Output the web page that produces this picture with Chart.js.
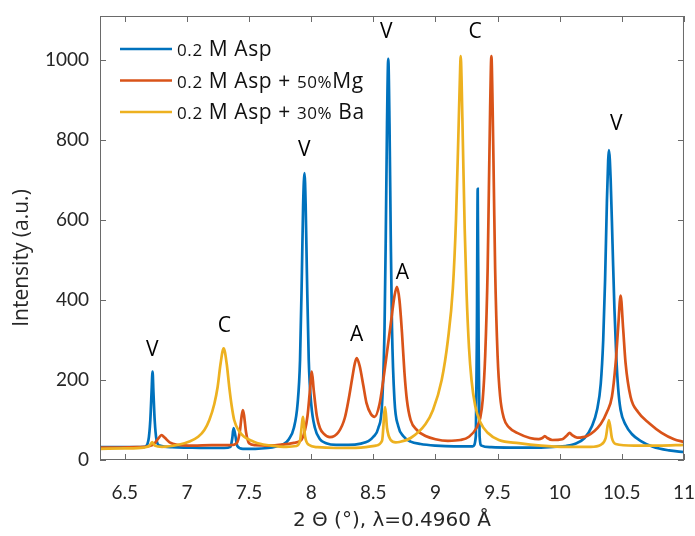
<!DOCTYPE html>
<html>
<head>
<meta charset="utf-8">
<script src="https://cdn.jsdelivr.net/npm/chart.js@4.4.1/dist/chart.umd.min.js"></script>
<style>
  html, body { margin: 0; padding: 0; background: #fff; }
  #wrap { width: 695px; height: 536px; }
</style>
</head>
<body>
<div id="wrap"><canvas id="xrdChart"></canvas></div>
<script>
const seriesNames = ['0.2 M Asp', '0.2 M Asp + 50%Mg', '0.2 M Asp + 30% Ba'];

// [2theta, intensity]
const aspPoints = [
  [6.30, 32], [6.45, 32], [6.58, 32], [6.66, 33], [6.69, 50], [6.705, 100], [6.715, 170], [6.723, 221],
  [6.73, 170], [6.74, 100], [6.755, 50], [6.78, 36], [6.88, 32], [7.00, 31], [7.15, 30], [7.30, 30],
  [7.35, 33], [7.365, 55], [7.375, 80], [7.39, 60], [7.405, 35], [7.45, 28], [7.55, 28], [7.65, 30],
  [7.72, 34], [7.78, 40], [7.82, 52], [7.86, 80], [7.89, 140], [7.91, 250], [7.925, 470], [7.935, 640],
  [7.946, 717], [7.955, 640], [7.965, 470], [7.98, 250], [8.00, 140], [8.03, 80], [8.07, 52], [8.12, 42],
  [8.20, 38], [8.30, 38], [8.40, 41], [8.46, 47], [8.50, 58], [8.54, 80], [8.57, 140], [8.59, 330],
  [8.60, 560], [8.61, 840], [8.62, 1003], [8.63, 840], [8.64, 560], [8.65, 330], [8.67, 150], [8.70, 85],
  [8.74, 60], [8.80, 46], [8.88, 40], [9.00, 36], [9.15, 34], [9.30, 34], [9.325, 60], [9.333, 300],
  [9.34, 678], [9.347, 300], [9.355, 60], [9.37, 36], [9.45, 32], [9.60, 31], [9.80, 31], [9.95, 33],
  [10.05, 35], [10.12, 40], [10.20, 55], [10.26, 85], [10.30, 125], [10.33, 190], [10.35, 300], [10.365, 450],
  [10.38, 650], [10.39, 750], [10.396, 775], [10.41, 700], [10.425, 540], [10.44, 380], [10.455, 260], [10.47, 180],
  [10.49, 125], [10.53, 88], [10.58, 65], [10.65, 48], [10.75, 33], [10.88, 24], [11.00, 20]
];

const mgPoints = [
  [6.30, 31], [6.45, 31], [6.60, 32], [6.70, 35], [6.74, 42], [6.77, 54], [6.795, 62], [6.82, 56],
  [6.86, 44], [6.92, 38], [7.05, 36], [7.20, 37], [7.35, 37], [7.40, 42], [7.425, 70], [7.44, 110],
  [7.45, 125], [7.46, 110], [7.475, 70], [7.50, 42], [7.55, 37], [7.65, 36], [7.78, 39], [7.86, 43],
  [7.92, 50], [7.95, 75], [7.97, 110], [7.99, 175], [8.005, 221], [8.02, 175], [8.045, 110], [8.07, 80],
  [8.10, 66], [8.15, 57], [8.22, 70], [8.27, 105], [8.30, 150], [8.33, 205], [8.35, 240], [8.366, 255],
  [8.39, 235], [8.42, 185], [8.445, 142], [8.48, 115], [8.51, 108], [8.55, 140], [8.58, 200], [8.61, 270],
  [8.64, 340], [8.67, 410], [8.69, 433], [8.71, 400], [8.73, 320], [8.75, 220], [8.77, 150], [8.80, 100],
  [8.85, 75], [8.92, 60], [9.00, 52], [9.10, 48], [9.20, 50], [9.27, 58], [9.33, 80], [9.36, 105],
  [9.38, 150], [9.40, 260], [9.42, 480], [9.43, 680], [9.44, 880], [9.45, 1010], [9.46, 880], [9.47, 680],
  [9.48, 480], [9.50, 260], [9.52, 160], [9.55, 105], [9.59, 82], [9.67, 66], [9.76, 55], [9.83, 52],
  [9.86, 55], [9.88, 60], [9.90, 55], [9.94, 50], [10.02, 52], [10.06, 62], [10.08, 68], [10.10, 62],
  [10.14, 56], [10.22, 60], [10.33, 90], [10.38, 120], [10.42, 158], [10.45, 242], [10.47, 330], [10.49, 411],
  [10.51, 330], [10.53, 242], [10.57, 158], [10.63, 120], [10.72, 92], [10.82, 68], [10.92, 52], [11.00, 45]
];

const baPoints = [
  [6.30, 28], [6.50, 29], [6.65, 31], [6.70, 36], [6.72, 45], [6.74, 36], [6.80, 33], [6.93, 38],
  [7.02, 46], [7.09, 58], [7.14, 75], [7.18, 100], [7.22, 140], [7.247, 183], [7.27, 240], [7.295, 279],
  [7.32, 240], [7.34, 183], [7.36, 135], [7.38, 100], [7.42, 72], [7.46, 58], [7.52, 48], [7.57, 42],
  [7.68, 36], [7.80, 33], [7.88, 35], [7.91, 48], [7.935, 108], [7.95, 60], [7.98, 38], [8.05, 32],
  [8.20, 30], [8.40, 31], [8.52, 36], [8.57, 48], [8.595, 132], [8.61, 80], [8.64, 50], [8.68, 44],
  [8.71, 45], [8.80, 55], [8.92, 90], [8.98, 125], [9.05, 200], [9.10, 300], [9.14, 430], [9.165, 600],
  [9.185, 820], [9.197, 960], [9.203, 1010], [9.21, 950], [9.22, 800], [9.235, 580], [9.25, 420], [9.27, 280],
  [9.29, 200], [9.32, 135], [9.36, 95], [9.42, 68], [9.51, 50], [9.67, 42], [9.85, 36], [10.05, 33],
  [10.25, 33], [10.33, 38], [10.37, 55], [10.396, 100], [10.42, 55], [10.45, 40], [10.60, 36], [10.80, 36],
  [11.00, 38]
];

const xTickValues = [6.5, 7, 7.5, 8, 8.5, 9, 9.5, 10, 10.5, 11];
const yTickValues = [0, 200, 400, 600, 800, 1000];

// phase markers (V, C, A) at [2theta, intensity]
const peakLetters = ['V', 'C', 'V', 'A', 'V', 'A', 'C', 'V'];
const peakAt = [[6.72, 275], [7.30, 335], [7.944, 775], [8.366, 312], [8.603, 1070], [8.733, 467], [9.32, 1070], [10.455, 840]];

const lineColors = ['#0072BD', '#D95319', '#EDB120'];

const toXY = pts => pts.map(p => ({ x: p[0], y: p[1] }));

// box, inward ticks, legend, letters and y title
const decorPlugin = {
  id: 'decor',
  afterDraw(chart) {
    const { ctx, chartArea: a, scales: { x, y } } = chart;
    ctx.save();
    ctx.strokeStyle = '#6a6a6a';
    ctx.lineWidth = 1;
    ctx.strokeRect(a.left + 0.5, a.top + 0.5, a.right - a.left - 1, a.bottom - a.top - 1);
    ctx.beginPath();
    x.ticks.forEach(t => {
      const px = Math.round(x.getPixelForValue(t.value)) + 0.5;
      ctx.moveTo(px, a.bottom); ctx.lineTo(px, a.bottom - 6);
      ctx.moveTo(px, a.top); ctx.lineTo(px, a.top + 6);
    });
    y.ticks.forEach(t => {
      const py = Math.round(y.getPixelForValue(t.value)) + 0.5;
      ctx.moveTo(a.left, py); ctx.lineTo(a.left + 6, py);
      ctx.moveTo(a.right, py); ctx.lineTo(a.right - 6, py);
    });
    ctx.stroke();

    // legend
    chart.data.datasets.forEach((ds, i) => {
      const ly = 49 + i * 31.5;
      ctx.strokeStyle = ds.borderColor;
      ctx.lineWidth = 2.5;
      ctx.beginPath();
      ctx.moveTo(120, ly); ctx.lineTo(172, ly);
      ctx.stroke();
      let tx = 177;
      ctx.fillStyle = '#111';
      ctx.textBaseline = 'alphabetic';
      ctx.letterSpacing = '0.6px';
      ds.label.split(/([0-9.%]+)/).forEach(part => {
        if (!part) return;
        const small = /^[0-9.%]+$/.test(part);
        ctx.font = (small ? '17px' : '21px') + ' "Open Sans"';
        ctx.fillText(part, tx, ly + 7);
        tx += ctx.measureText(part).width;
      });
      ctx.letterSpacing = '0px';
    });

    // phase letters
    ctx.fillStyle = '#000';
    ctx.font = '21px "Open Sans"';
    ctx.textAlign = 'center';
    ctx.textBaseline = 'middle';
    peakLetters.forEach((s, i) => {
      ctx.fillText(s, x.getPixelForValue(peakAt[i][0]), y.getPixelForValue(peakAt[i][1]));
    });

    // y title
    ctx.translate(22, 258);
    ctx.rotate(-Math.PI / 2);
    ctx.fillStyle = '#262626';
    ctx.font = '21px "Open Sans"';
    ctx.fillText('Intensity (a.u.)', 0, 0);
    ctx.restore();
  }
};

const ctx = document.getElementById('xrdChart').getContext('2d');
const xrdChart = new Chart(ctx, {
  type: 'line',
  data: {
    datasets: [
      { label: seriesNames[0], data: toXY(aspPoints), borderColor: lineColors[0], order: 3 },
      { label: seriesNames[1], data: toXY(mgPoints), borderColor: lineColors[1], order: 2 },
      { label: seriesNames[2], data: toXY(baPoints), borderColor: lineColors[2], order: 1 }
    ]
  },
  options: {
    responsive: true,
    maintainAspectRatio: false,
    animation: false,
    datasets: {
      line: { borderWidth: 2.7, pointRadius: 0, cubicInterpolationMode: 'monotone', fill: false }
    },
    layout: { padding: { top: 16, right: 10, left: 0, bottom: 0 } },
    plugins: {
      legend: { display: false },
      tooltip: { enabled: false }
    },
    scales: {
      x: {
        type: 'linear',
        min: 6.3,
        max: 11,
        afterBuildTicks: s => { s.ticks = xTickValues.map(v => ({ value: v })); },
        afterFit: s => { s.height = 76; },
        // tickLength only offsets the labels; the marks are drawn by the plugin
        grid: { display: false, drawTicks: true, tickLength: 21 },
        border: { display: false },
        ticks: {
          padding: 0,
          color: '#262626',
          maxRotation: 0,
          autoSkip: false,
          font: { family: 'Lato', size: 19 },
          callback: v => String(v)
        },
        title: {
          display: true,
          text: '2 Θ (°), λ=0.4960 Å',
          color: '#262626',
          font: { family: 'DejaVu Sans', size: 20 },
          padding: { top: 0, bottom: 3 }
        }
      },
      y: {
        min: 0,
        max: 1110,
        afterBuildTicks: s => { s.ticks = yTickValues.map(v => ({ value: v })); },
        afterFit: s => { s.width = 100; },
        grid: { display: false, drawTicks: true, tickLength: 11 },
        border: { display: false },
        ticks: {
          padding: 0,
          color: '#262626',
          font: { family: 'Lato', size: 19 },
          callback: v => String(v)
        }
      }
    }
  },
  plugins: [decorPlugin]
});
</script>
</body>
</html>
